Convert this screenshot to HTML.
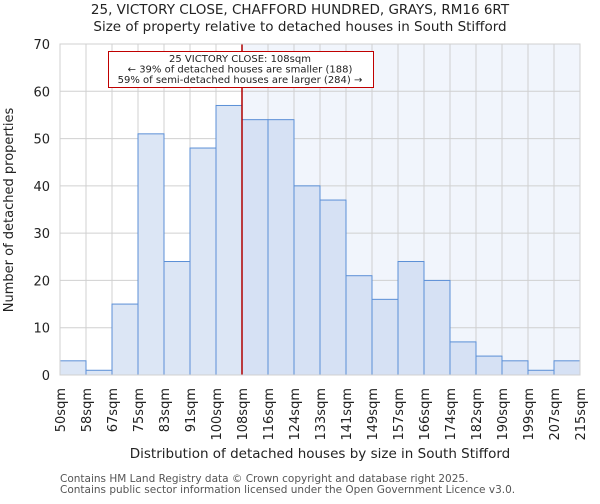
<!DOCTYPE html>
<html><head><meta charset="utf-8"><style>
body{margin:0;background:#fff;font-family:"DejaVu Sans","Liberation Sans",sans-serif}
svg text{font-family:"DejaVu Sans","Liberation Sans",sans-serif;fill:#222}
</style></head><body>
<svg id="c" width="600" height="500" xmlns="http://www.w3.org/2000/svg">
<text x="300" y="14" text-anchor="middle" font-size="13.5">25, VICTORY CLOSE, CHAFFORD HUNDRED, GRAYS, RM16 6RT</text>
<text x="300" y="31" text-anchor="middle" font-size="13.5">Size of property relative to detached houses in South Stifford</text>
<g id="g"></g>
<text x="320" y="458" text-anchor="middle" font-size="13.5">Distribution of detached houses by size in South Stifford</text>
<text transform="translate(13,210) rotate(-90)" text-anchor="middle" font-size="13">Number of detached properties</text>
<text x="60" y="482" font-size="10.5" style="fill:#555">Contains HM Land Registry data © Crown copyright and database right 2025.</text>
<text x="60" y="493" font-size="10.5" style="fill:#555">Contains public sector information licensed under the Open Government Licence v3.0.</text>
</svg>
<script>
const categories=["50sqm","58sqm","67sqm","75sqm","83sqm","91sqm","100sqm","108sqm","116sqm","124sqm","133sqm","141sqm","149sqm","157sqm","166sqm","174sqm","182sqm","190sqm","199sqm","207sqm","215sqm"];
const counts=[3,1,15,51,24,48,57,54,54,40,37,21,16,24,20,7,4,3,1,3];
const yTicks=[0,10,20,30,40,50,60,70];
const markerIndex=7;
const NS="http://www.w3.org/2000/svg",g=document.getElementById("g");
const X0=60,X1=580,Y0=375,Y1=44,n=counts.length,bw=(X1-X0)/n;
const xs=i=>X0+i*bw, ys=v=>Y0-(v/70)*(Y0-Y1);
function el(t,a){const e=document.createElementNS(NS,t);for(const k in a)e.setAttribute(k,a[k]);g.appendChild(e);return e;}
let e=el("rect",{x:xs(markerIndex),y:Y1,width:X1-xs(markerIndex),height:Y0-Y1,fill:"#f1f5fc"});


yTicks.forEach(t=>{const l=el("line",{x1:X0,x2:X1,y1:ys(t),y2:ys(t),stroke:"#d0d0d0"});


const tx=el("text",{x:X0-10,y:ys(t)+5,"text-anchor":"end","font-size":"13"});tx.textContent=t;

});
categories.forEach((c,i)=>{const l=el("line",{x1:xs(i),x2:xs(i),y1:Y1,y2:Y0,stroke:"#d0d0d0"});


const tx=el("text",{transform:`translate(${xs(i)+5},${Y0+13}) rotate(-90)`,"text-anchor":"end","font-size":"13"});tx.textContent=c;

});
counts.forEach((v,i)=>{const r=el("rect",{x:xs(i),y:ys(v),width:bw,height:Y0-ys(v),fill:i<markerIndex?"#dce6f5":"#d6e1f4",stroke:"#5b8fd6","stroke-width":"1"});

});
e=el("line",{x1:xs(markerIndex),x2:xs(markerIndex),y1:Y1,y2:Y0,stroke:"#b00000","stroke-width":"1.5"});


e=el("rect",{x:108.5,y:51.5,width:265,height:36,fill:"#fff",stroke:"#c00000"});


["25 VICTORY CLOSE: 108sqm","← 39% of detached houses are smaller (188)","59% of semi-detached houses are larger (284) →"].forEach((s,k)=>{const t=el("text",{x:240,y:62+k*10.5,"text-anchor":"middle","font-size":"10"});t.textContent=s;

});
e=el("rect",{x:X0,y:Y1,width:X1-X0,height:Y0-Y1,fill:"none",stroke:"#d0d0d0"});


</script>
</body></html>
